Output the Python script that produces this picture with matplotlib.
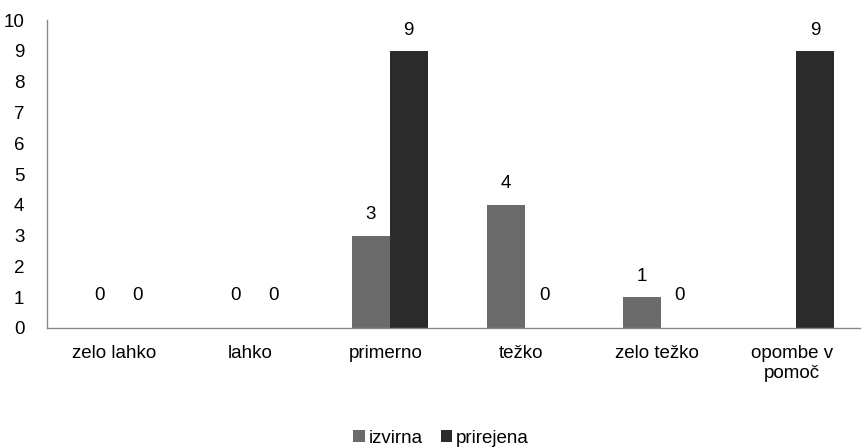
import numpy as np
from matplotlib import pyplot as plt

plt.rcParams['font.family'] = ['Liberation Sans', 'DejaVu Sans']

categories = ['zelo lahko', 'lahko', 'primerno', 'težko', 'zelo težko', 'opombe v\npomoč']
izvirna = [0, 0, 3, 4, 1, None]
prirejena = [0, 0, 9, 0, 0, 9]
series = [('izvirna', izvirna, '#6b6b6b'), ('prirejena', prirejena, '#2b2b2b')]

fs = 13.5
fig = plt.figure(figsize=(8.65, 4.48), dpi=100)
ax = fig.add_axes([0.054, 0.268, 0.94, 0.687])

x = np.arange(len(categories))
w = 0.28
for i, (name, vals, col) in enumerate(series):
    pos = x + (i - 0.5) * w + 0.03
    for p, v in zip(pos, vals):
        if v is None:
            continue
        ax.bar(p, v, w, color=col, label=name if p == pos[0] else None)
        off = 23 if v == 0 else 15
        ax.annotate(str(v), (p, v), xytext=(0, off), textcoords='offset points',
                    ha='center', va='center', fontsize=fs)

ax.set_xlim(-0.5, len(categories) - 0.5)
ax.set_ylim(0, 10)
ax.set_yticks(range(0, 11))
ax.set_xticks(x)
ax.set_xticklabels(categories, fontsize=fs, linespacing=1.25)
ax.tick_params(axis='both', length=0, labelsize=fs)
ax.tick_params(axis='x', pad=12)
ax.tick_params(axis='y', pad=16)
for s in ['top', 'right']:
    ax.spines[s].set_visible(False)
for s in ['left', 'bottom']:
    ax.spines[s].set_color('#8a8a8a')
    ax.spines[s].set_linewidth(1.0)

fig.legend(loc='lower center', bbox_to_anchor=(0.51, -0.035), ncol=2, frameon=False,
           fontsize=fs, handlelength=0.6, handleheight=0.6, handletextpad=0.2,
           columnspacing=1.0)

plt.savefig('out.png', dpi=100)
